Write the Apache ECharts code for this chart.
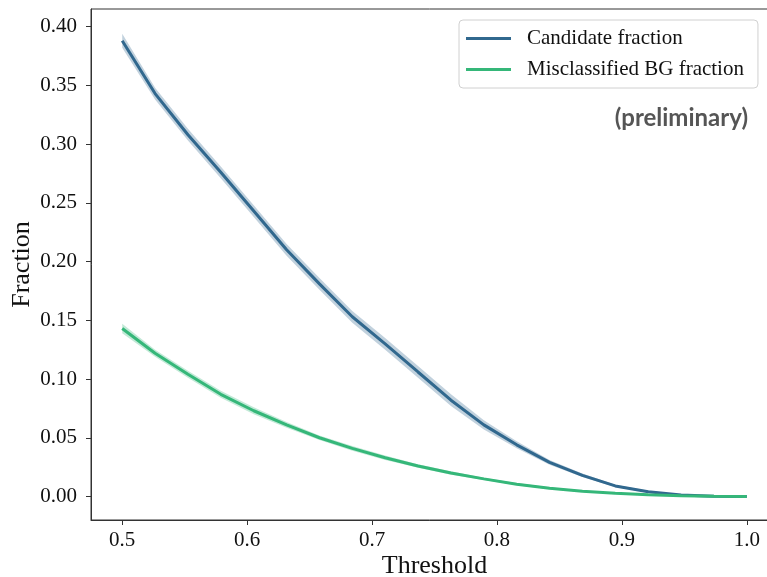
<!DOCTYPE html>
<html>
<head>
<meta charset="utf-8">
<script src="https://cdn.jsdelivr.net/npm/echarts@6/dist/echarts.min.js"></script>
<style>
  html, body { margin: 0; padding: 0; background: #fff; }
  #chart { width: 767px; height: 577px; }
</style>
</head>
<body>
<div id="chart"></div>
<script>
// thresholds (20 points between 0.5 and 1.0)
const thresholds = [0.5, 0.5263, 0.5526, 0.5789, 0.6053, 0.6316, 0.6579, 0.6842, 0.7105, 0.7368,
                    0.7632, 0.7895, 0.8158, 0.8421, 0.8684, 0.8947, 0.9211, 0.9474, 0.9737, 1.0];
const candidate = [0.388, 0.343, 0.308, 0.276, 0.243, 0.210, 0.181, 0.153, 0.130, 0.106,
                   0.082, 0.061, 0.044, 0.029, 0.018, 0.009, 0.004, 0.0012, 0.0003, 0.0];
const candidateErr = [0.006, 0.005, 0.005, 0.005, 0.005, 0.005, 0.005, 0.005, 0.005, 0.005,
                      0.005, 0.004, 0.003, 0.002, 0.0015, 0.001, 0.0008, 0.0005, 0.0002, 0];
const misclassified = [0.143, 0.122, 0.104, 0.087, 0.073, 0.061, 0.050, 0.041, 0.033, 0.026,
                       0.020, 0.015, 0.0105, 0.007, 0.0045, 0.0027, 0.0015, 0.0007, 0.0002, 0.0];
const misclassifiedErr = [0.004, 0.003, 0.003, 0.003, 0.003, 0.0025, 0.002, 0.002, 0.002, 0.0015,
                          0.0015, 0.001, 0.001, 0.0008, 0.0006, 0.0005, 0.0003, 0.0002, 0.0001, 0];
const xTicks = [0.5, 0.6, 0.7, 0.8, 0.9, 1.0];
const yTicks = [0, 0.05, 0.1, 0.15, 0.2, 0.25, 0.3, 0.35, 0.4];

const BLUE = '#31688e';
const GREEN = '#35b779';
const serif = '"Liberation Serif", "DejaVu Serif", serif';

const pairs = (vals) => thresholds.map((x, i) => [x, vals[i]]);

// shaded band drawn as one polygon through the axis scales
function band(vals, err, color) {
  const rows = thresholds.map((x, i) => [x, vals[i] - err[i], vals[i] + err[i]]);
  return {
    type: 'custom', silent: true, data: rows,
    encode: { x: 0, y: [1, 2] },
    renderItem: (params, api) => {
      if (params.dataIndex !== 0) return null;
      const top = rows.map(r => api.coord([r[0], r[2]]));
      const bot = rows.map(r => api.coord([r[0], r[1]])).reverse();
      return {
        type: 'polygon',
        shape: { points: top.concat(bot) },
        style: { fill: color, opacity: 0.3 }
      };
    }
  };
}

const chart = echarts.init(document.getElementById('chart'));
chart.setOption({
  animation: false,
  grid: { left: 91, right: -11, top: 9, bottom: 57, show: true, outerBoundsMode: 'none',
          containLabel: false,
          borderColor: '#333', borderWidth: 1, backgroundColor: 'transparent' },
  legend: {
    data: ['Candidate fraction', 'Misclassified BG fraction'],
    orient: 'vertical', left: 459, top: 20,
    padding: [8, 14, 8, 7], itemGap: 10,
    itemWidth: 45, itemHeight: 3, icon: 'rect',
    backgroundColor: '#fff', borderColor: '#d0d0d0', borderWidth: 1, borderRadius: 4,
    textStyle: { fontFamily: serif, fontSize: 21, color: '#111', padding: [0, 0, 0, 11] }
  },
  xAxis: {
    type: 'value', min: 0.475, max: 1.025,
    name: 'Threshold', nameLocation: 'middle', nameGap: 33, nameMoveOverlap: false,
    nameTextStyle: { fontFamily: serif, fontSize: 26, color: '#111' },
    axisLine: { show: true, onZero: false, lineStyle: { color: '#333', width: 1 } },
    axisTick: { show: true, length: 5, customValues: xTicks, lineStyle: { color: '#333' } },
    axisLabel: { customValues: xTicks, margin: 10, fontFamily: serif, fontSize: 21, color: '#111',
                 formatter: v => v.toFixed(1) },
    splitLine: { show: false }
  },
  yAxis: {
    type: 'value', min: -0.02, max: 0.415,
    name: 'Fraction', nameLocation: 'middle', nameGap: 56, nameRotate: 90, nameMoveOverlap: false,
    nameTextStyle: { fontFamily: serif, fontSize: 26, color: '#111' },
    axisLine: { show: true, onZero: false, lineStyle: { color: '#333', width: 1 } },
    axisTick: { show: true, length: 5, customValues: yTicks, lineStyle: { color: '#333' } },
    axisLabel: { customValues: yTicks, margin: 14, fontFamily: serif, fontSize: 21, color: '#111',
                 formatter: v => v.toFixed(2) },
    splitLine: { show: false }
  },
  graphic: [{
    type: 'text', right: 19, top: 106,
    style: { text: '(preliminary)', font: 'bold 24px Lato, "Open Sans", sans-serif', fill: '#555' }
  }],
  series: [
    band(candidate, candidateErr, BLUE),
    { name: 'Candidate fraction', type: 'line', data: pairs(candidate), showSymbol: false,
      color: BLUE, lineStyle: { color: BLUE, width: 3 } },
    band(misclassified, misclassifiedErr, GREEN),
    { name: 'Misclassified BG fraction', type: 'line', data: pairs(misclassified), showSymbol: false,
      color: GREEN, lineStyle: { color: GREEN, width: 3 } }
  ]
});
</script>
</body>
</html>
